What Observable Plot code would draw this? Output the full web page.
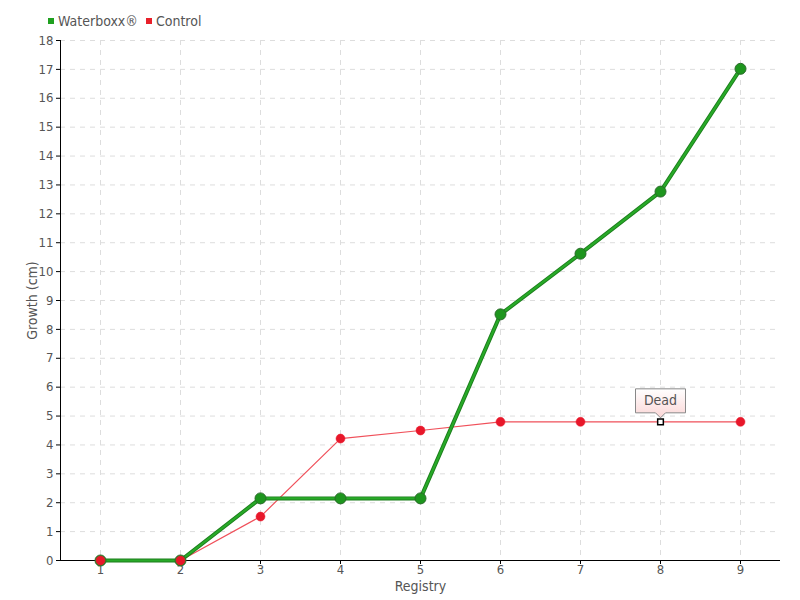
<!DOCTYPE html>
<html>
<head>
<meta charset="utf-8">
<script src="https://cdn.jsdelivr.net/npm/d3@7"></script>
<script src="https://cdn.jsdelivr.net/npm/@observablehq/plot@0.6"></script>
<style>
  body { margin: 0; background: #fff; font-family: "Liberation Sans Narrow", "DejaVu Sans Condensed", sans-serif; }
  #legend { height: 30px; box-sizing: border-box; padding-top: 12px; display: flex; align-items: center; padding-left: 48px; font-size: 14px; color: #555; }
  #legend span.sw { display: inline-block; width: 6px; height: 6px; margin-right: 4px; }
  #legend span.item { margin-right: 8px; display: inline-flex; align-items: center; line-height: 18px; }
</style>
</head>
<body>
<div id="legend"></div>
<div id="chart"></div>
<script>
const registry = [1, 2, 3, 4, 5, 6, 7, 8, 9];
const waterboxx = [0, 0, 2.15, 2.15, 2.15, 8.52, 10.62, 12.77, 17.02];
const control = [0, 0, 1.52, 4.22, 4.5, 4.8, 4.8, 4.8, 4.8];
const seriesNames = ["Waterboxx®", "Control"];
const seriesColors = ["#1fa01f", "#e8202a"];
const yTicks = d3.range(0, 19);
const annotation = { registry: 8, value: 4.8, label: "Dead" };

const wData = registry.map((r, i) => ({ x: r, y: waterboxx[i] }));
const cData = registry.map((r, i) => ({ x: r, y: control[i] }));

// legend
const legend = document.getElementById("legend");
seriesNames.forEach((n, i) => {
  const s = document.createElement("span");
  s.className = "item";
  s.innerHTML = `<span class="sw" style="background:${seriesColors[i]}"></span>${n}`;
  legend.appendChild(s);
});

// callout shape symbol (pixel offsets relative to the annotated point)
const callout = {
  draw(ctx) {
    ctx.moveTo(-25, -33);
    ctx.lineTo(25, -33);
    ctx.lineTo(25, -9);
    ctx.lineTo(5, -9);
    ctx.lineTo(0, -4);
    ctx.lineTo(-5, -9);
    ctx.lineTo(-25, -9);
    ctx.closePath();
  }
};

const font = '"Liberation Sans Narrow", "DejaVu Sans Condensed", sans-serif';

const chart = Plot.plot({
  width: 800,
  height: 570,
  marginLeft: 60,
  marginRight: 20,
  marginTop: 10,
  marginBottom: 40,
  style: { fontFamily: font, fontSize: "14px", color: "#555", background: "#fff" },
  x: { domain: [0.5, 9.5], ticks: registry, label: null },
  y: { domain: [0, 18], ticks: yTicks, label: null },
  marks: [
    Plot.gridY(yTicks, { stroke: "#ddd", strokeOpacity: 1, strokeDasharray: "5,5" }),
    Plot.gridX(registry, { stroke: "#ddd", strokeOpacity: 1, strokeDasharray: "5,5" }),
    Plot.axisY(yTicks, { tickSize: 4, tickPadding: 3, stroke: "#000", fill: "#555", fontSize: 13, label: null }),
    Plot.axisX(registry, { tickSize: 4, tickPadding: 0, stroke: "#000", fill: "#555", fontSize: 13, label: null }),
    Plot.ruleY([0], { stroke: "#000" }),
    Plot.ruleX([0.5], { stroke: "#000" }),
    Plot.text(["Registry"], { frameAnchor: "bottom", dy: 30, fill: "#555", fontSize: 14 }),
    Plot.text(["Growth (cm)"], { frameAnchor: "left", textAnchor: "middle", dx: -28, rotate: -90, fill: "#555", fontSize: 14 }),
    Plot.line(cData, { x: "x", y: "y", stroke: "#f0505a", strokeWidth: 1.2 }),
    Plot.line(wData, { x: "x", y: "y", stroke: "#1c7e1c", strokeWidth: 4 }),
    Plot.line(wData, { x: "x", y: "y", stroke: "#28aa28", strokeWidth: 2.2 }),
    Plot.dot(wData, { x: "x", y: "y", r: 5.5, fill: "#1e961e", stroke: "#2a6a2a", strokeWidth: 1 }),
    Plot.dot(cData.filter(d => d.x !== annotation.registry), { x: "x", y: "y", r: 4.5, fill: "#e8172a", stroke: "#e8172a", strokeWidth: 0.5 }),
    Plot.dot([annotation], { x: "registry", y: "value", symbol: "square", r: 3.2, fill: "#fff", stroke: "#000", strokeWidth: 1.5 }),
    Plot.dot([annotation], { x: "registry", y: "value", symbol: callout, fill: "url(#calloutGrad)", stroke: "#888", strokeWidth: 1 }),
    Plot.text([annotation], { x: "registry", y: "value", text: "label", dy: -21, fill: "#555", fontSize: 14 })
  ]
});

// gradient for callout
const svg = d3.select(chart);
const defs = svg.insert("defs", ":first-child");
const g = defs.append("linearGradient").attr("id", "calloutGrad").attr("x1", 0).attr("y1", 0).attr("x2", 0).attr("y2", 1);
g.append("stop").attr("offset", "0%").attr("stop-color", "#ffffff");
g.append("stop").attr("offset", "100%").attr("stop-color", "#fbd6d6");

document.getElementById("chart").appendChild(chart);
</script>
</body>
</html>
